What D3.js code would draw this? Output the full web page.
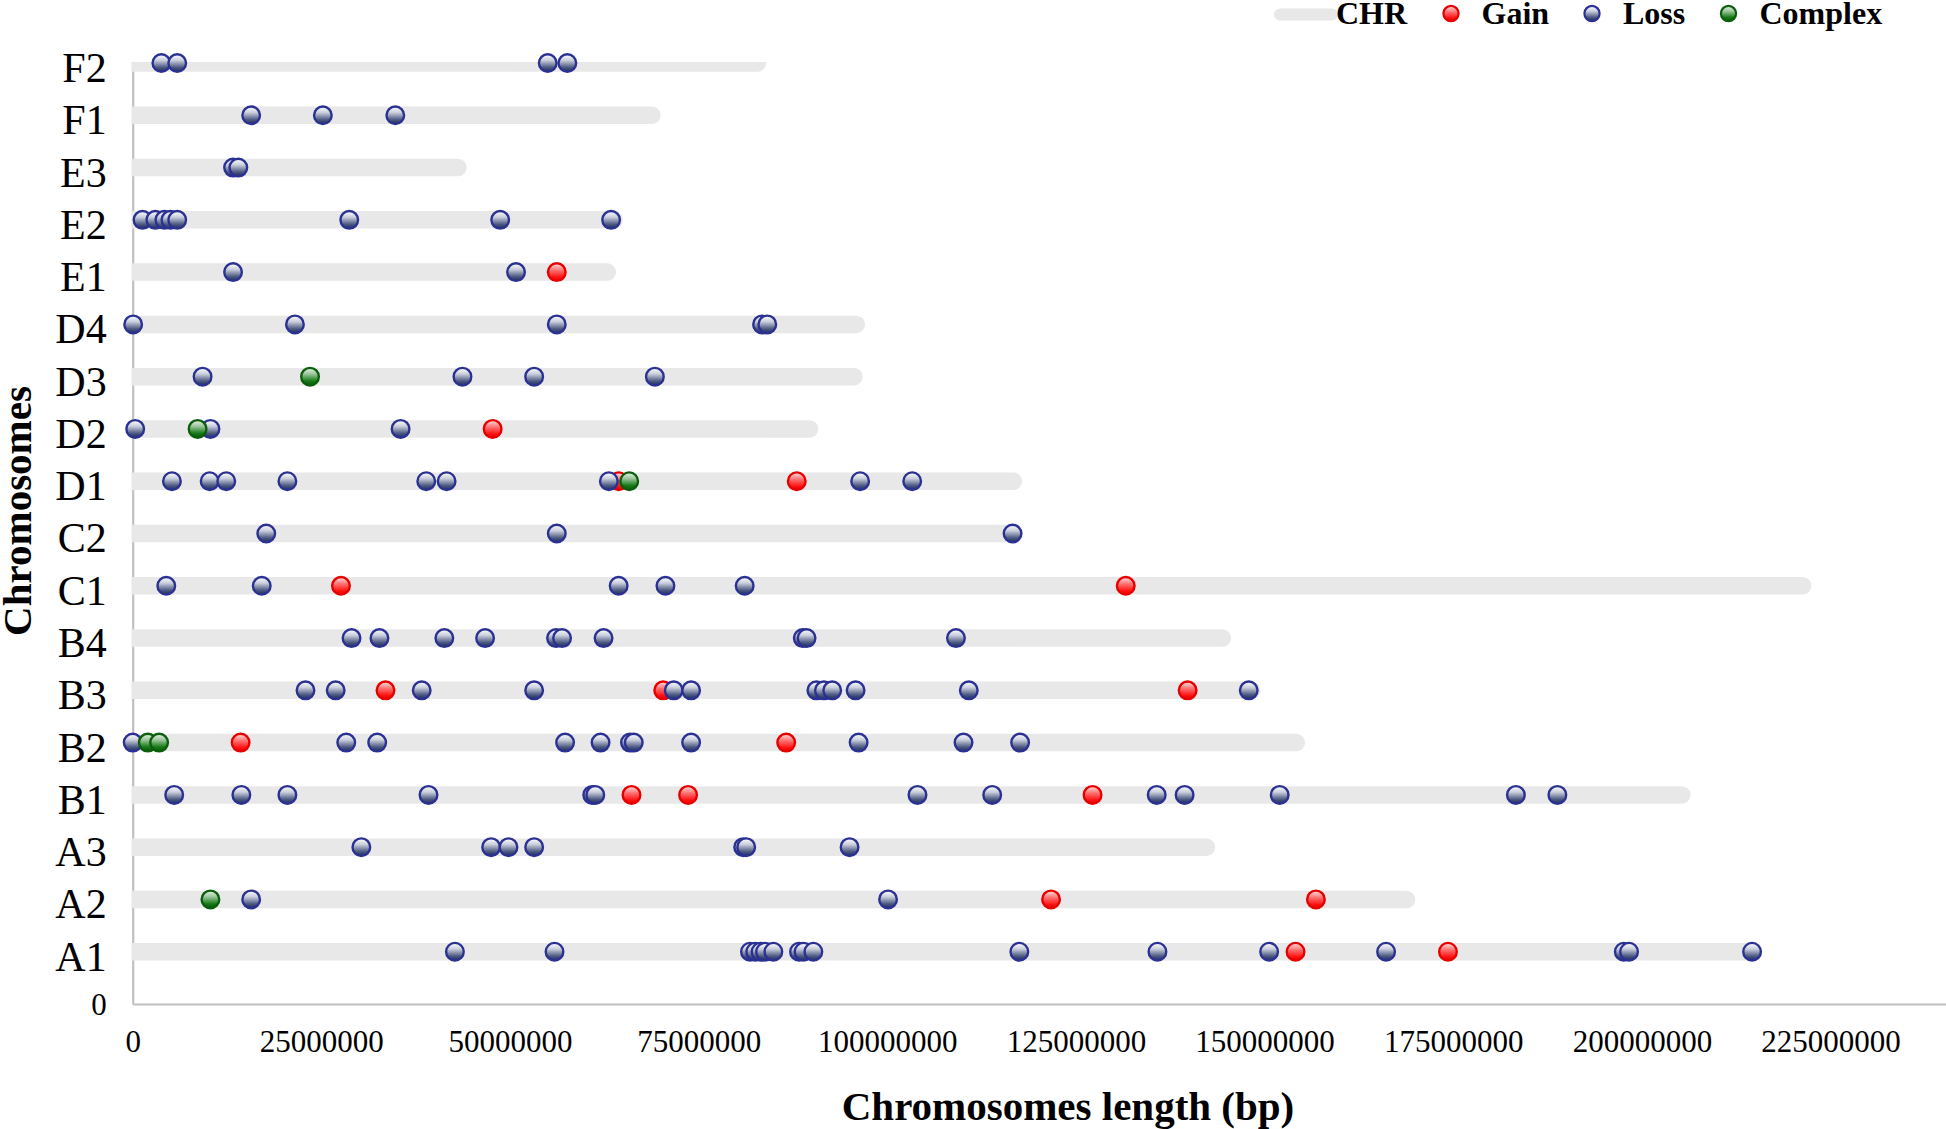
<!DOCTYPE html>
<html>
<head>
<meta charset="utf-8">
<script src="https://cdn.jsdelivr.net/npm/d3@7"></script>
<style>
  html, body { margin: 0; padding: 0; background: #fff; }
  svg { display: block; }
  text { font-family: "Liberation Serif", "Times New Roman", serif; fill: #000; }
</style>
</head>
<body>
<svg id="chart" width="1946" height="1129"></svg>
<script>
// ---------------- DATA (positions in Mb) ----------------
const chromosomes = ["A1","A2","A3","B1","B2","B3","B4","C1","C2","D1","D2","D3","D4","E1","E2","E3","F1","F2"];
const chrLengthMb = [214.8,168.8,142.3,205.3,154.2,148.3,144.4,221.3,116.6,116.7,89.7,95.6,95.9,62.9,63.8,43.1,68.8,82.8];

const lossA1 = [42.7,55.9,81.8,82.5,83.2,83.8,84.9,88.3,88.9,90.2,117.5,135.8,150.6,166.1,197.6,198.3,214.6];
const lossA2 = [15.7,100.1];
const lossA3 = [30.3,47.5,49.8,53.2,80.9,81.3,95.0];
const lossB1 = [5.5,14.4,20.5,39.2,60.9,61.3,104.0,113.9,135.7,139.4,152.0,183.3,188.8];
const lossB2 = [0.0,28.3,32.4,57.3,62.0,65.9,66.4,74.0,96.2,110.1,117.6];
const lossB3 = [22.9,26.9,38.3,53.2,71.7,74.0,90.6,91.6,92.7,95.8,110.8,147.9];
const lossB4 = [29.0,32.7,41.3,46.7,56.1,56.9,62.4,88.8,89.3,109.1];
const lossC1 = [4.45,17.1,64.4,70.6,81.1];
const lossC2 = [17.7,56.2,116.6];
const lossD1 = [5.2,10.2,12.4,20.5,38.9,41.6,63.1,96.4,103.3];
const lossD2 = [0.33,10.3,35.5];
const lossD3 = [9.26,43.7,53.2,69.2];
const lossD4 = [0.06,21.5,56.2,83.4,84.1];
const lossE1 = [13.3,50.8];
const lossE2 = [1.3,3.0,4.2,5.0,5.9,28.7,48.7,63.4];
const lossE3 = [13.3,14.0];
const lossF1 = [15.7,25.2,34.8];
const lossF2 = [3.8,5.9,55.0,57.6];

const gainA1 = [154.1,174.3];
const gainA2 = [121.7,156.8];
const gainB1 = [66.1,73.6,127.2];
const gainB2 = [14.3,86.6];
const gainB3 = [33.5,70.3,139.8];
const gainC1 = [27.6,131.6];
const gainD1 = [64.4,88.0];
const gainD2 = [47.7];
const gainE1 = [56.2];

const complexA2 = [10.3];
const complexB2 = [2.0,3.5];
const complexD1 = [65.8];
const complexD2 = [8.6];
const complexD3 = [23.5];

const xTickValues = [0,25000000,50000000,75000000,100000000,125000000,150000000,175000000,200000000,225000000];
const legendLabels = ["CHR","Gain","Loss","Complex"];

// ---------------- BUILD TABLES ----------------
const lossByChr = {A1:lossA1,A2:lossA2,A3:lossA3,B1:lossB1,B2:lossB2,B3:lossB3,B4:lossB4,C1:lossC1,C2:lossC2,
  D1:lossD1,D2:lossD2,D3:lossD3,D4:lossD4,E1:lossE1,E2:lossE2,E3:lossE3,F1:lossF1,F2:lossF2};
const gainByChr = {A1:gainA1,A2:gainA2,B1:gainB1,B2:gainB2,B3:gainB3,C1:gainC1,D1:gainD1,D2:gainD2,E1:gainE1};
const complexByChr = {A2:complexA2,B2:complexB2,D1:complexD1,D2:complexD2,D3:complexD3};

function flatten(obj) {
  const out = [];
  Object.keys(obj).forEach(c => obj[c].forEach(p => out.push({chr: c, pos: p * 1e6})));
  return out;
}
const gainPts = flatten(gainByChr);
const lossPts = flatten(lossByChr);
const complexPts = flatten(complexByChr);
const chrRows = chromosomes.map((c, i) => ({chr: c, idx: i + 1, len: chrLengthMb[i] * 1e6}));
const chrIndex = {};
chromosomes.forEach((c, i) => chrIndex[c] = i + 1);

// ---------------- SCALES ----------------
const svg = d3.select("#chart");
const x = d3.scaleLinear().domain([0, 240.3e6]).range([132.7, 1946]);
const y = d3.scaleLinear().domain([0, 18]).range([1004, 63]);

// gradients
const defs = svg.append("defs");
function grad(id, stops) {
  const g = defs.append("linearGradient").attr("id", id).attr("x1", 0).attr("y1", 0).attr("x2", 0).attr("y2", 1);
  stops.forEach(s => g.append("stop").attr("offset", s[0]).attr("stop-color", s[1]));
}
grad("gLoss", [[0, "#ffffff"], [0.35, "#c9cedb"], [0.75, "#4d5a82"], [1, "#1f2b5c"]]);
grad("gGain", [[0, "#ffe4e4"], [0.4, "#ff7070"], [0.8, "#ff1010"], [1, "#e00000"]]);
grad("gComplex", [[0, "#e8f2e8"], [0.35, "#9cc59c"], [0.75, "#157a15"], [1, "#0a560a"]]);
defs.append("clipPath").attr("id", "plotClip").append("rect")
  .attr("x", 131.5).attr("y", 62).attr("width", 1946 - 131.5).attr("height", 1004 - 62);

const styles = {
  Gain: {fill: "url(#gGain)", stroke: "#e60000"},
  Loss: {fill: "url(#gLoss)", stroke: "#2b3192"},
  Complex: {fill: "url(#gComplex)", stroke: "#0b5e0b"}
};

// ---------------- AXES ----------------
const xAxis = d3.axisBottom(x).tickValues(xTickValues).tickSize(0).tickFormat(d3.format("d"));
const gx = svg.append("g").attr("transform", `translate(0,${y(0)})`).call(xAxis);
gx.select(".domain").attr("stroke", "#c0c0c0").attr("stroke-width", 2.2);
gx.selectAll("text").attr("font-size", 31).attr("dy", null).attr("y", 48)
  .style("font-family", '"Liberation Serif", serif');

const yTickVals = d3.range(0, 19);
const yAxis = d3.axisLeft(y).tickValues(yTickVals).tickSize(0).tickPadding(26)
  .tickFormat(d => d === 0 ? "0" : chromosomes[d - 1]);
const gy = svg.append("g").attr("transform", `translate(${x(0)},0)`).call(yAxis);
gy.select(".domain").attr("stroke", "#c0c0c0").attr("stroke-width", 2.2);
gy.selectAll("text").attr("font-size", d => d === 0 ? 31 : 42).attr("dy", d => d === 0 ? "0.35em" : "0.44em")
  .style("font-family", '"Liberation Serif", serif');

// ---------------- BARS ----------------
svg.append("g").attr("clip-path", "url(#plotClip)")
  .selectAll("line").data(chrRows).join("line")
  .attr("x1", x(0) - 10).attr("x2", d => x(d.len))
  .attr("y1", d => y(d.idx)).attr("y2", d => y(d.idx))
  .attr("stroke", "#e8e8e8").attr("stroke-width", 17.5).attr("stroke-linecap", "round");

// ---------------- MARKERS ----------------
function drawPts(pts, type) {
  svg.append("g").selectAll("circle").data(pts).join("circle")
    .attr("cx", d => x(d.pos)).attr("cy", d => y(chrIndex[d.chr]))
    .attr("r", 8.8)
    .attr("fill", styles[type].fill).attr("stroke", styles[type].stroke).attr("stroke-width", 2.4);
}
drawPts(gainPts, "Gain");
drawPts(lossPts, "Loss");
drawPts(complexPts, "Complex");

// ---------------- TITLES ----------------
svg.append("text").attr("x", 1068).attr("y", 1120).attr("text-anchor", "middle")
  .attr("font-size", 41).attr("font-weight", "bold").text("Chromosomes length (bp)");
svg.append("text").attr("transform", "translate(31,511) rotate(-90)").attr("text-anchor", "middle")
  .attr("font-size", 41).attr("font-weight", "bold").text("Chromosomes");

// ---------------- LEGEND ----------------
const lg = svg.append("g");
lg.append("line").attr("x1", 1280).attr("x2", 1332).attr("y1", 14.5).attr("y2", 14.5)
  .attr("stroke", "#e8e8e8").attr("stroke-width", 12).attr("stroke-linecap", "round");
const legendMarkX = [null, 1451, 1592, 1728.5];
const legendTextX = [1336, 1481.5, 1623, 1759.5];
const legendTypes = [null, "Gain", "Loss", "Complex"];
legendLabels.forEach((lab, i) => {
  if (i > 0) {
    lg.append("circle").attr("cx", legendMarkX[i]).attr("cy", 13.5).attr("r", 7.6)
      .attr("fill", styles[legendTypes[i]].fill).attr("stroke", styles[legendTypes[i]].stroke).attr("stroke-width", 2.2);
  }
  lg.append("text").attr("x", legendTextX[i]).attr("y", 23.5).attr("font-size", 32)
    .attr("font-weight", "bold").text(lab);
});
</script>
</body>
</html>
